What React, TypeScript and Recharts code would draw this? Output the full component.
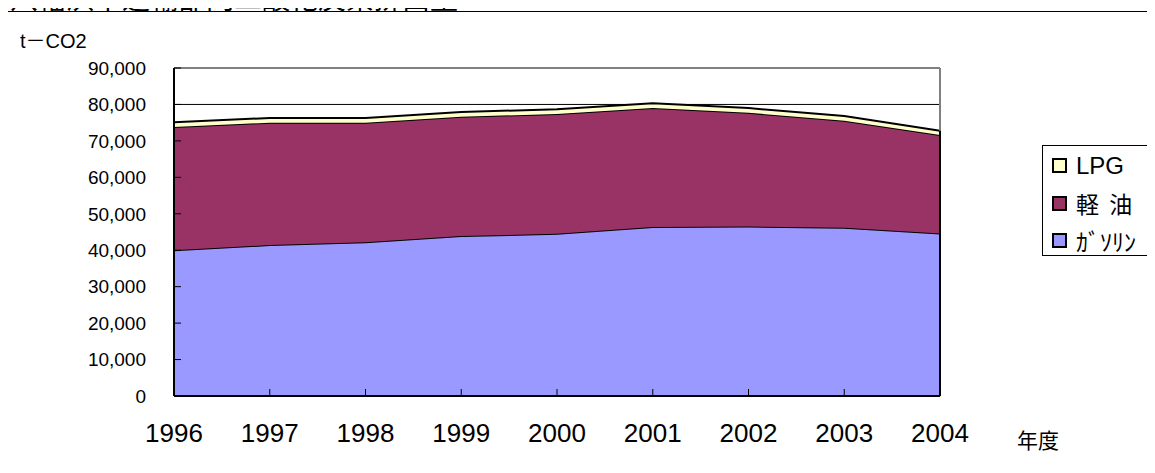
import React from 'react';
import { AreaChart, Area, XAxis, YAxis, CartesianGrid, ReferenceLine } from 'recharts';

const years = ['1996', '1997', '1998', '1999', '2000', '2001', '2002', '2003', '2004'];
const gasoline = [40000, 41400, 42200, 43900, 44500, 46400, 46500, 46200, 44600];
const diesel = [33800, 33600, 32800, 32700, 32900, 32600, 31200, 29300, 27000];
const lpg = [1300, 1300, 1300, 1300, 1300, 1300, 1300, 1300, 1200];
const yTicks = [0, 10000, 20000, 30000, 40000, 50000, 60000, 70000, 80000, 90000];

const data = years.map((y, i) => ({ year: y, gas: gasoline[i], diesel: diesel[i], lpg: lpg[i] }));
const lastIdx = years.length - 1;
const lastTotal = gasoline[lastIdx] + diesel[lastIdx] + lpg[lastIdx];

const FONT = '"Liberation Sans", "Noto Sans CJK JP", sans-serif';
const CJK = '"Noto Sans CJK JP", "Liberation Sans", sans-serif';

const legendItems = [
  { label: 'LPG', color: '#FFFFCC', font: FONT, size: 24 },
  { label: '軽\u00a0\u00a0油', color: '#993366', font: CJK, size: 23 },
  { label: 'ｶﾞｿﾘﾝ', color: '#9999FF', font: CJK, size: 24 },
];

const LegendBox = () => (
  <div style={{ position: 'absolute', left: 1042, top: 145, width: 130, height: 111, border: '1px solid #000', background: '#fff', boxSizing: 'border-box', paddingTop: 1 }}>
    {legendItems.map((it) => (
      <div key={it.label} style={{ display: 'flex', alignItems: 'center', height: 37.5, paddingLeft: 9 }}>
        <span style={{ width: 11, height: 11, background: it.color, border: '2px solid #000', marginRight: 9, display: 'inline-block', flexShrink: 0 }} />
        <span style={{ fontFamily: it.font, fontSize: it.size, lineHeight: '26px', whiteSpace: 'nowrap' }}>{it.label}</span>
      </div>
    ))}
  </div>
);

export default function App() {
  return (
    <div style={{ position: 'relative', margin: -8, width: 1155, height: 473, overflow: 'hidden', background: '#fff' }}>
      <div style={{ position: 'absolute', left: 10, top: -17, fontSize: 28, lineHeight: '28px', fontFamily: CJK, whiteSpace: 'nowrap' }}>
        八幡浜市運輸部門二酸化炭素排出量
      </div>
      <div style={{ position: 'absolute', left: 7, top: 11, width: 1200, height: 500, border: '1px solid #000', background: 'transparent' }} />
      <div style={{ position: 'absolute', left: 20, top: 29, fontSize: 20, lineHeight: '24px', fontFamily: FONT, whiteSpace: 'nowrap' }}>t－CO2</div>
      <div style={{ position: 'absolute', left: 1017, top: 426, fontSize: 21, lineHeight: '26px', fontFamily: CJK }}>年度</div>
      <div style={{ position: 'absolute', left: 0, top: 0 }}>
        <AreaChart width={1155} height={473} data={data} margin={{ top: 68, right: 215, left: 74, bottom: 17 }}>
          <CartesianGrid horizontal vertical={false} stroke="#000" strokeWidth={1} />
          <XAxis
            dataKey="year"
            height={60}
            tickSize={-7}
            tickMargin={35}
            axisLine={{ stroke: '#000', strokeWidth: 2 }}
            tickLine={{ stroke: '#000' }}
            tick={{ fill: '#000', fontSize: 26, fontFamily: FONT }}
            interval={0}
          />
          <YAxis
            width={100}
            domain={[0, 90000]}
            ticks={yTicks}
            tickSize={-7}
            tickMargin={35}
            axisLine={{ stroke: '#000', strokeWidth: 2 }}
            tickLine={{ stroke: '#000' }}
            tick={{ fill: '#000', fontSize: 19, fontFamily: FONT }}
            tickFormatter={(v: number) => v.toLocaleString('en-US')}
            interval={0}
          />
          <Area type="linear" dataKey="gas" stackId="1" fill="#9999FF" fillOpacity={1} stroke="#000" strokeWidth={2} isAnimationActive={false} />
          <Area type="linear" dataKey="diesel" stackId="1" fill="#993366" fillOpacity={1} stroke="#000" strokeWidth={2} isAnimationActive={false} />
          <Area type="linear" dataKey="lpg" stackId="1" fill="#FFFFCC" fillOpacity={1} stroke="#000" strokeWidth={2} isAnimationActive={false} />
          <ReferenceLine y={90000} stroke="#808080" strokeWidth={2} />
          <ReferenceLine
            segment={[{ x: '2004', y: lastTotal }, { x: '2004', y: 90000 }]}
            stroke="#808080"
            strokeWidth={2}
          />
          <ReferenceLine
            segment={[{ x: '2004', y: 0 }, { x: '2004', y: lastTotal }]}
            stroke="#000"
            strokeWidth={2}
          />
        </AreaChart>
      </div>
      <LegendBox />
    </div>
  );
}
